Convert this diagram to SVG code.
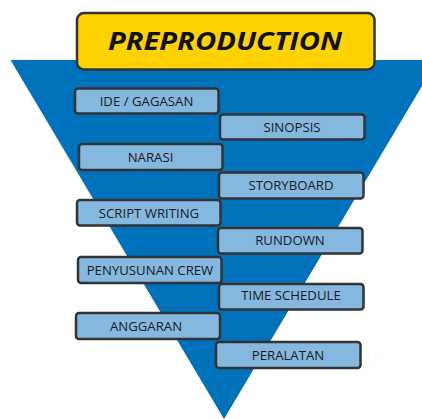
<svg xmlns="http://www.w3.org/2000/svg" width="422" height="419" viewBox="0 0 422 419">
<style>
.box{fill:#85B8DF;stroke:#333;stroke-width:2.5}
.lbl{font-family:"Open Sans","Noto Sans",sans-serif;font-size:13.2px;fill:#1a1a1a;text-anchor:middle}
.title{font-family:"Open Sans","Noto Sans",sans-serif;font-size:25px;font-weight:bold;font-style:italic;fill:#111;text-anchor:middle}
</style>
<rect width="422" height="419" fill="#fff"/>
<polygon points="10.5,60 437.5,60 224,419" fill="#0071BB"/>
<g id="title"><rect x="77" y="13" width="297.5" height="56.5" rx="7" fill="#FFD200" stroke="#333" stroke-width="2.5"/><text class="title" x="225" y="50" textLength="234" lengthAdjust="spacingAndGlyphs">PREPRODUCTION</text></g>
<g id="ide"><rect class="box" x="75" y="88.5" width="143.5" height="25" rx="3"/><text class="lbl" x="146.5" y="105.5">IDE / GAGASAN</text></g>
<g id="sinopsis"><rect class="box" x="220" y="114.5" width="144.5" height="25" rx="3"/><text class="lbl" x="292" y="131.5">SINOPSIS</text></g>
<g id="narasi"><rect class="box" x="79" y="144" width="143.5" height="26" rx="3"/><text class="lbl" x="150.5" y="161.5">NARASI</text></g>
<g id="storyboard"><rect class="box" x="219" y="172.5" width="144.5" height="26" rx="3"/><text class="lbl" x="291" y="190">STORYBOARD</text></g>
<g id="script"><rect class="box" x="77" y="200" width="143.5" height="25.5" rx="3"/><text class="lbl" x="149" y="217.5">SCRIPT WRITING</text></g>
<g id="rundown"><rect class="box" x="218" y="228" width="144.5" height="25.5" rx="3"/><text class="lbl" x="290" y="245">RUNDOWN</text></g>
<g id="crew"><rect class="box" x="78" y="257" width="143.5" height="26" rx="3"/><text class="lbl" x="150" y="274.5">PENYUSUNAN CREW</text></g>
<g id="timeschedule"><rect class="box" x="219" y="284" width="144.5" height="25.5" rx="3"/><text class="lbl" x="291" y="299.5">TIME SCHEDULE</text></g>
<g id="anggaran"><rect class="box" x="76" y="313" width="144" height="26" rx="3"/><text class="lbl" x="146" y="330.5">ANGGARAN</text></g>
<g id="peralatan"><rect class="box" x="216" y="342" width="144.5" height="26" rx="3"/><text class="lbl" x="288" y="359.5">PERALATAN</text></g>
<g id="connectors"/>
</svg>
